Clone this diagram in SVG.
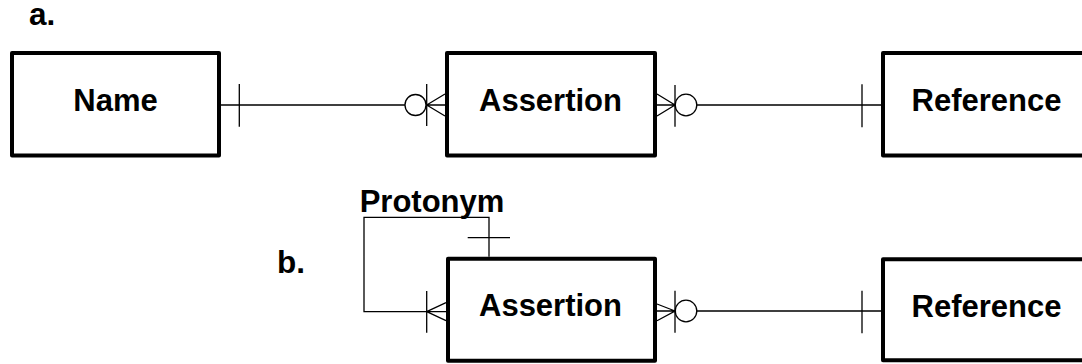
<svg xmlns="http://www.w3.org/2000/svg" width="1082" height="364" viewBox="0 0 1082 364">
<style>
.box{fill:#fff;stroke:#000;stroke-width:4;stroke-linejoin:round}
.lbl{font-family:"Liberation Sans",Arial,sans-serif;font-weight:bold;font-size:31.5px;fill:#000}
.t{font-family:"Liberation Sans",Arial,sans-serif;font-weight:bold;font-size:31px;fill:#000;text-anchor:middle}
.ln{fill:none;stroke:#000;stroke-width:1.3}
</style>
<rect width="1082" height="364" fill="#fff"/>
<text class="lbl" x="29" y="25" font-size="30">a.</text>
<text class="lbl" x="277" y="273">b.</text>
<g id="name-a"><rect class="box" x="12" y="53" width="207" height="102.5"/><text class="t" x="115.5" y="111">Name</text></g>
<g id="assertion-a"><rect class="box" x="447" y="53" width="208" height="102.5"/><text class="t" x="550.5" y="111">Assertion</text></g>
<g id="reference-a"><rect class="box" x="883" y="53" width="215" height="102.5"/><text class="t" x="986.5" y="111">Reference</text></g>
<g id="assertion-b"><rect class="box" x="448" y="258.7" width="207" height="102"/><text class="t" x="550.5" y="316">Assertion</text></g>
<g id="reference-b"><rect class="box" x="883" y="259.3" width="215" height="101"/><text class="t" x="986.5" y="317">Reference</text></g>
<text class="t" x="432" y="211.5">Protonym</text>
<g id="connectors">
<!-- a: Name - Assertion -->
<path class="ln" d="M221 105H405M239.3 84V126.7"/>
<circle class="ln" cx="415.5" cy="105" r="10.5"/>
<path class="ln" d="M426.7 84V126M426.7 105H445M426.7 105L445 94M426.7 105L445 116"/>
<!-- a: Assertion - Reference -->
<path class="ln" d="M657 94L675 105L657 116M657 105H675M675 85V126.7"/>
<circle class="ln" cx="686" cy="105" r="10.8"/>
<path class="ln" d="M696.8 105H881M862 84.3V127.3"/>
<!-- b: self loop -->
<path class="ln" d="M489 256.7V217.3H364V311.7H446M467.7 237.7H510M426.7 291V332.7M426.7 311.7L446 302.7M426.7 311.7L446 320.7"/>
<!-- b: Assertion - Reference -->
<path class="ln" d="M657 304L675 311L657 320.7M657 311H675M675 290.7V332.7"/>
<circle class="ln" cx="686" cy="311" r="10.8"/>
<path class="ln" d="M696.8 311H881M862 290.7V333.3"/>
</g>
</svg>
